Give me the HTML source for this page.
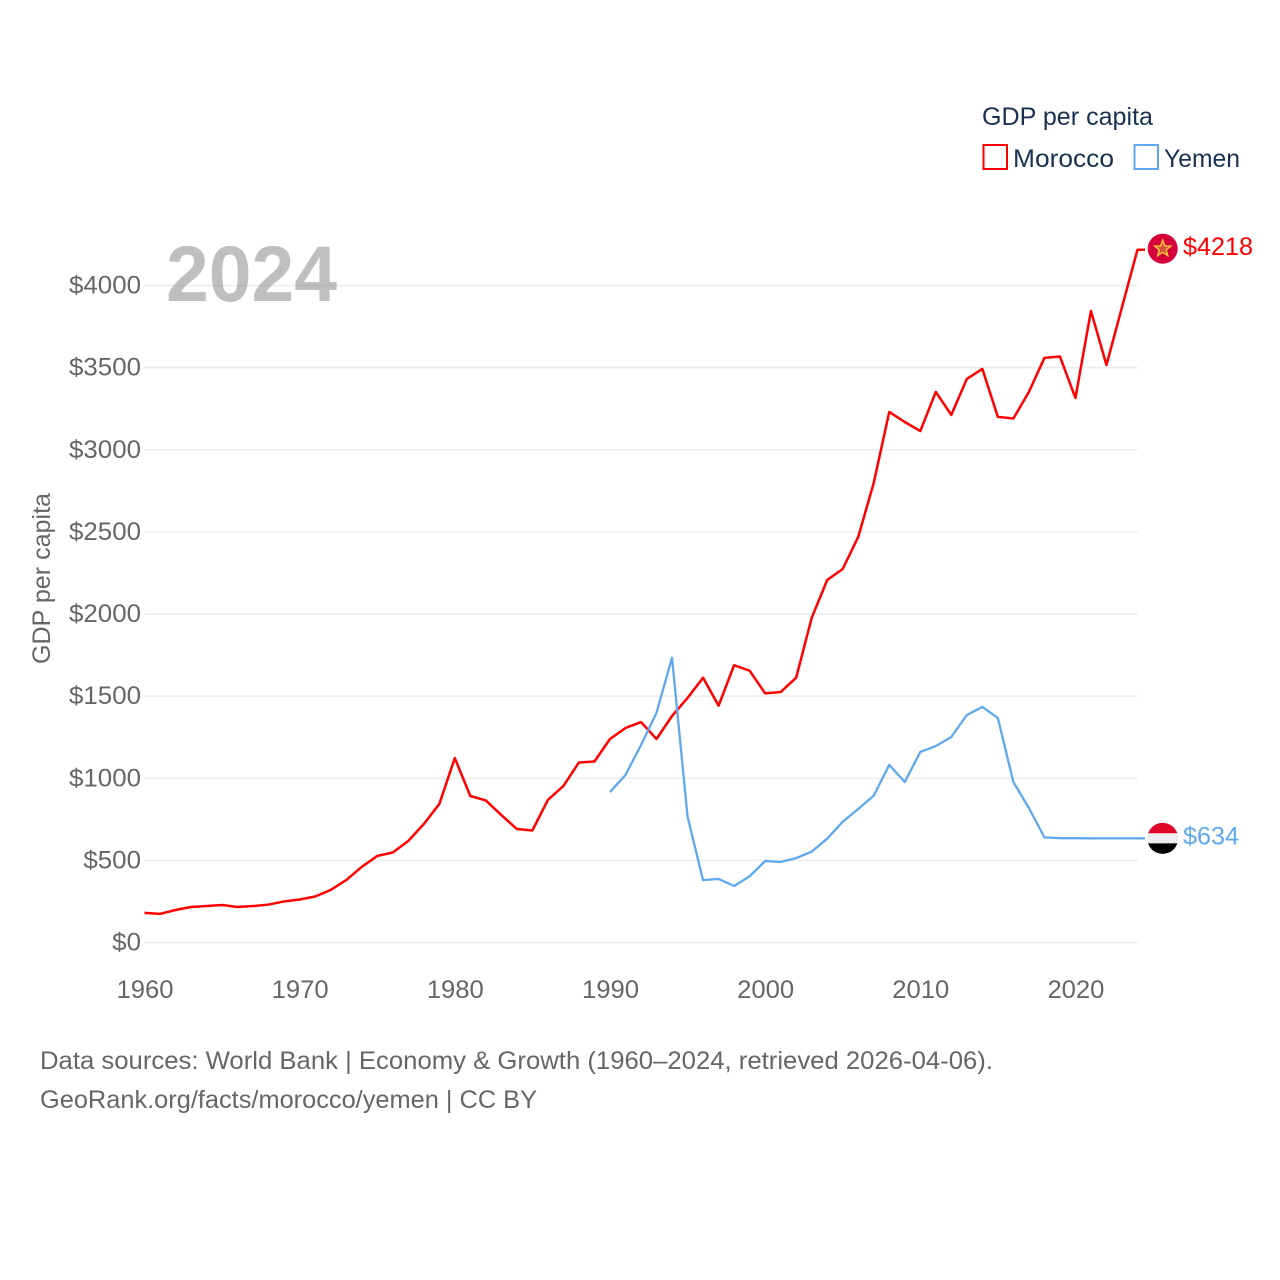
<!DOCTYPE html>
<html lang="en">
<head>
<meta charset="utf-8">
<title>GDP per capita: Morocco and Yemen</title>
<style>
  html, body { margin: 0; padding: 0; background: #fff; }
  svg { display: block; font-family: "Liberation Sans", sans-serif; }
</style>
</head>
<body>
<svg id="chart" width="1280" height="1280" viewBox="0 0 1280 1280" xmlns="http://www.w3.org/2000/svg">
  <rect x="0" y="0" width="1280" height="1280" fill="#ffffff"/>
  <g id="grid"></g>
  <text x="166" y="301" font-size="79" font-weight="700" fill="#7f7f7f" fill-opacity="0.5" textLength="171" lengthAdjust="spacingAndGlyphs">2024</text>
  <g id="y-ticks"></g>
  <g id="x-ticks"></g>
  <text transform="translate(50,664) rotate(-90)" font-size="25" fill="#666666" textLength="171" lengthAdjust="spacingAndGlyphs">GDP per capita</text>
  <g id="series"></g>

  <g id="flag-morocco">
    <circle cx="0" cy="0" r="15" fill="#d5003a"/>
    <polygon points="0,-8.5 2.2,-2.7 8.1,-2.6 3.5,1.1 5,6.9 0,3.6 -5,6.9 -3.5,1.1 -8.1,-2.6 -2.2,-2.7" fill="#d5503a" stroke="#f5c13c" stroke-width="1.5"/>
  </g>
  <g id="flag-yemen">
    <clipPath id="yemen-clip"><circle cx="0" cy="0" r="15.5"/></clipPath>
    <g clip-path="url(#yemen-clip)">
      <rect x="-16" y="-16" width="32" height="11" fill="#e0072a"/>
      <rect x="-16" y="-5" width="32" height="10" fill="#eeeeee"/>
      <rect x="-16" y="5" width="32" height="11" fill="#000000"/>
    </g>
  </g>
  <text id="label-morocco" x="1183" font-size="25" fill="#ff0000" textLength="70" lengthAdjust="spacingAndGlyphs"></text>
  <text id="label-yemen" x="1183" font-size="25" fill="#5fa8ee" textLength="56" lengthAdjust="spacingAndGlyphs"></text>

  <g>
    <text x="982" y="125" font-size="25" fill="#1a3050" textLength="171" lengthAdjust="spacingAndGlyphs">GDP per capita</text>
    <g>
      <rect x="983.5" y="145" width="23.5" height="24" fill="none" stroke="#ff0000" stroke-width="2"/>
      <text x="1013" y="167" font-size="25" fill="#1a3050" textLength="101" lengthAdjust="spacingAndGlyphs">Morocco</text>
    </g>
    <g>
      <rect x="1134.5" y="145" width="23.5" height="24" fill="none" stroke="#5fa8ee" stroke-width="2"/>
      <text x="1164" y="167" font-size="25" fill="#1a3050" textLength="76" lengthAdjust="spacingAndGlyphs">Yemen</text>
    </g>
  </g>

  <text x="40" y="1069" font-size="25" fill="#666666" textLength="953" lengthAdjust="spacingAndGlyphs">Data sources: World Bank | Economy &amp; Growth (1960–2024, retrieved 2026-04-06).</text>
  <text x="40" y="1108" font-size="25" fill="#666666" textLength="497" lengthAdjust="spacingAndGlyphs">GeoRank.org/facts/morocco/yemen | CC BY</text>
</svg>

<script>
const yTickValues = [0, 500, 1000, 1500, 2000, 2500, 3000, 3500, 4000];
const xTickValues = [1960, 1970, 1980, 1990, 2000, 2010, 2020];
const moroccoStartYear = 1960;
const moroccoValues = [
  180, 174, 198, 216, 222, 228, 216, 222, 231, 250,
  262, 280, 320, 380, 460, 527, 548, 618, 721, 843,
  1123, 892, 865, 776, 691, 682, 868, 953, 1096, 1102,
  1239, 1306, 1342, 1239, 1379, 1489, 1612, 1442, 1688, 1655,
  1517, 1525, 1612, 1976, 2207, 2274, 2469, 2798, 3230, 3169,
  3114, 3352, 3212, 3431, 3492, 3200, 3190, 3352, 3559, 3568,
  3315, 3845, 3516, 3868, 4218
];
const yemenStartYear = 1990;
const yemenValues = [
  916, 1020, 1202, 1399, 1734, 766, 380, 387, 344, 403,
  496, 490, 514, 553, 632, 735, 813, 894, 1081, 977,
  1160, 1196, 1251, 1385, 1434, 1367, 977, 819, 640, 635,
  635, 634, 634, 634, 634
];

const SVG_NS = 'http://www.w3.org/2000/svg';
const xScale = function (year) { return 144.5 + (year - 1960) * (993 / 64); };
const yScale = function (value) { return 942.5 - value * 0.16425; };

function make(tag, parent) {
  const el = document.createElementNS(SVG_NS, tag);
  parent.appendChild(el);
  return el;
}

const gridLayer = document.getElementById('grid');
const yLayer = document.getElementById('y-ticks');
yTickValues.forEach(function (v) {
  const line = make('line', gridLayer);
  
  
  line.setAttribute('x1', xScale(1960));
  line.setAttribute('x2', xScale(2024));
  line.setAttribute('y1', yScale(v));
  line.setAttribute('y2', yScale(v));
  line.setAttribute('stroke', '#ececec');
  line.setAttribute('stroke-width', '1.6');

  const label = make('text', yLayer);
  
  
  const str = '$' + v;
  label.textContent = str;
  label.setAttribute('x', 141 - str.length * 14.4);
  label.setAttribute('y', yScale(v) + 8);
  label.setAttribute('font-size', '25');
  label.setAttribute('fill', '#666666');
  label.setAttribute('textLength', str.length * 14.4);
  label.setAttribute('lengthAdjust', 'spacingAndGlyphs');
});

const xLayer = document.getElementById('x-ticks');
xTickValues.forEach(function (year) {
  const label = make('text', xLayer);
  
  
  label.textContent = String(year);
  label.setAttribute('x', xScale(year) - 28);
  label.setAttribute('y', 998);
  label.setAttribute('font-size', '25');
  label.setAttribute('fill', '#666666');
  label.setAttribute('textLength', '57');
  label.setAttribute('lengthAdjust', 'spacingAndGlyphs');
});

function linePoints(startYear, values) {
  const pts = values.map(function (v, i) {
    return xScale(startYear + i).toFixed(2) + ',' + yScale(v).toFixed(2);
  });
  const lastYear = startYear + values.length - 1;
  pts.push((xScale(lastYear) + 7.5).toFixed(2) + ',' + yScale(values[values.length - 1]).toFixed(2));
  return pts.join(' ');
}

const seriesLayer = document.getElementById('series');

const moroccoLine = make('polyline', seriesLayer);


moroccoLine.setAttribute('points', linePoints(moroccoStartYear, moroccoValues));
moroccoLine.setAttribute('fill', 'none');
moroccoLine.setAttribute('stroke', '#ff0000');
moroccoLine.setAttribute('stroke-width', '2.5');
moroccoLine.setAttribute('stroke-linejoin', 'round');

const yemenLine = make('polyline', seriesLayer);


yemenLine.setAttribute('points', linePoints(yemenStartYear, yemenValues));
yemenLine.setAttribute('fill', 'none');
yemenLine.setAttribute('stroke', '#5fa8ee');
yemenLine.setAttribute('stroke-width', '2.3');
yemenLine.setAttribute('stroke-linejoin', 'round');

const moroccoLast = moroccoValues[moroccoValues.length - 1];
const yemenLast = yemenValues[yemenValues.length - 1];
document.getElementById('flag-morocco').setAttribute('transform', 'translate(1162.7,' + (yScale(moroccoLast) - 1) + ')');
document.getElementById('flag-yemen').setAttribute('transform', 'translate(1162.7,' + yScale(yemenLast) + ')');
const labelM = document.getElementById('label-morocco');
labelM.textContent = '$' + moroccoLast;
labelM.setAttribute('y', yScale(moroccoLast) + 5.5);
const labelY = document.getElementById('label-yemen');
labelY.textContent = '$' + yemenLast;
labelY.setAttribute('y', yScale(yemenLast) + 6);
</script>
</body>
</html>
